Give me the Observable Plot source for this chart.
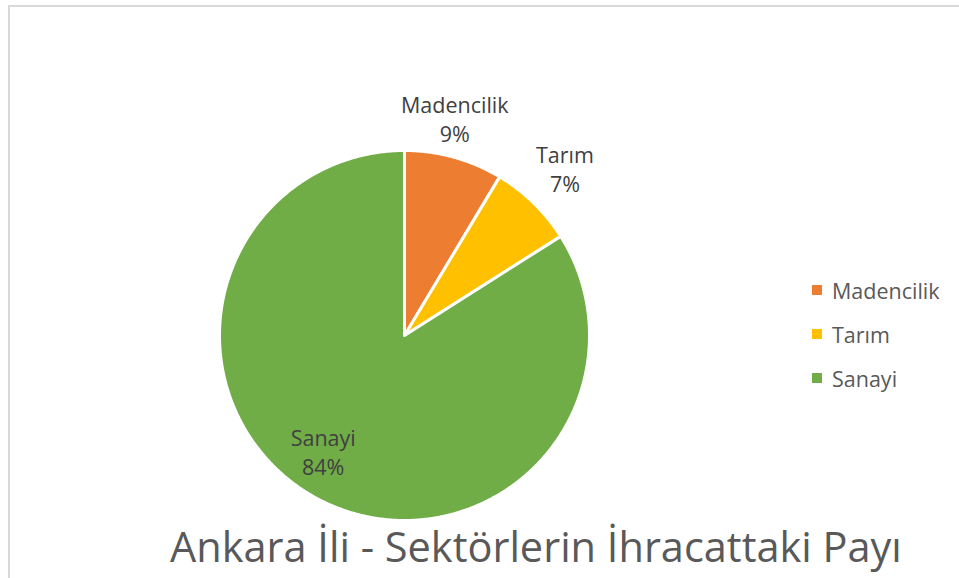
<!DOCTYPE html>
<html>
<head>
<meta charset="utf-8">
<script src="https://cdn.jsdelivr.net/npm/d3@7"></script>
<script src="https://cdn.jsdelivr.net/npm/@observablehq/plot@0.6"></script>
<style>
  html, body { margin: 0; padding: 0; background: #fff; }
  #wrap { position: relative; width: 959px; height: 578px; overflow: hidden; font-family: "Open Sans", sans-serif; }
  #border { position: absolute; left: 8px; top: 5px; right: -10px; bottom: -10px; border-left: 2px solid #d9d9d9; border-top: 2px solid #d9d9d9; }
  #chart { position: absolute; left: 0; top: 0; }
  #legend { position: absolute; left: 812px; top: 268px; }
  .item { height: 44px; display: flex; align-items: center; font-size: 21.5px; color: #595959; }
  .sw { width: 10px; height: 10px; margin-right: 10px; }
  #title { position: absolute; left: 170px; top: 520px; font-size: 41.5px; line-height: 1.3; color: #595959; white-space: nowrap; }
</style>
</head>
<body>
<div id="wrap">
  <div id="border"></div>
  <div id="chart"></div>
  <div id="legend"></div>
  <div id="title"></div>
</div>
<script>
const categories = ["Madencilik", "Tarım", "Sanayi"];
const shares = [8.6, 7.4, 84.0];
const colors = ["#ED7D31", "#FFC000", "#70AD47"];
const titleText = "Ankara İli - Sektörlerin İhracattaki Payı";

const total = d3.sum(shares);
// Build slice outlines from the data (angles clockwise from top)
const slicePoints = [];
const labels = [];
let cum = 0;
categories.forEach((c, i) => {
  const a0 = cum / total * 2 * Math.PI;
  cum += shares[i];
  const a1 = cum / total * 2 * Math.PI;
  slicePoints.push({cat: c, x: 0, y: 0});
  const n = Math.max(2, Math.ceil((a1 - a0) / (Math.PI / 360)));
  for (let k = 0; k <= n; k++) {
    const a = a0 + (a1 - a0) * k / n;
    slicePoints.push({cat: c, x: Math.sin(a), y: Math.cos(a)});
  }
  slicePoints.push({cat: c, x: 0, y: 0});
  const am = (a0 + a1) / 2;
  const r = shares[i] < 20 ? 1.18 : 0.8;
  labels.push({cat: c, x: r * Math.sin(am), y: r * Math.cos(am),
               text: c + "\n" + Math.round(shares[i] / total * 100) + "%"});
});

// small hand nudges of label placement (Excel "best fit" style)
const nudge = [[-8, -7], [8, -11], [-10, -14]];
const labelMarks = categories.map((c, i) =>
  Plot.text(labels.filter(d => d.cat === c), {
    x: "x", y: "y", text: "text", fontSize: 21.5, fill: "#404040",
    lineHeight: 1.35, lineAnchor: "middle", dx: nudge[i][0], dy: nudge[i][1]
  })
);

const plot = Plot.plot({
  width: 959,
  height: 578,
  margin: 0,
  x: {domain: [-1, 1], range: [219, 589], axis: null},
  y: {domain: [-1, 1], range: [520, 150], axis: null},
  color: {domain: categories, range: colors},
  style: {fontFamily: "Open Sans, sans-serif", background: "transparent"},
  marks: [
    Plot.line(slicePoints, {x: "x", y: "y", z: "cat", fill: "cat", stroke: "white", strokeWidth: 3, strokeLinejoin: "round"}),
    ...labelMarks
  ]
});
document.getElementById("chart").appendChild(plot);

const legend = document.getElementById("legend");
categories.forEach((c, i) => {
  const it = document.createElement("div");
  it.className = "item";
  const sw = document.createElement("div");
  sw.className = "sw";
  sw.style.background = colors[i];
  it.appendChild(sw);
  it.appendChild(document.createTextNode(c));
  legend.appendChild(it);
});
document.getElementById("title").textContent = titleText;
</script>
</body>
</html>
